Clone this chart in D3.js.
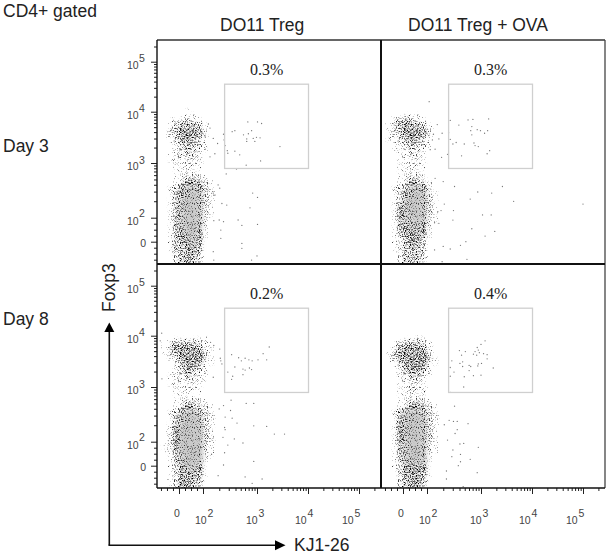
<!DOCTYPE html>
<html><head><meta charset="utf-8">
<script src="https://cdn.jsdelivr.net/npm/d3@7"></script>
<style>html,body{margin:0;background:#fff}svg{display:block}text{font-family:"Liberation Sans",Arial,sans-serif}</style>
</head><body><svg id="c" width="609" height="554"></svg>
<script>
// Axis values are display units: 2 = 10^2, 3 = 10^3 ... and linear between 0 and 2.
const columnTitles = ["DO11 Treg", "DO11 Treg + OVA"];
const rowTitles = ["Day 3", "Day 8"];
const gatePercents = ["0.3%", "0.3%", "0.2%", "0.4%"];
const axisDomain = [-1.83, 0, 2, 3, 4, 5, 5.43];
const foxDomain = [-1.86, 0, 2, 3, 4, 5, 5.43];
const gateX = [2.4, 4.01];
const gateY = [2.9, 4.55];
const majorTicks = [0, 2, 3, 4, 5];
const decadeTicks = [2, 3, 4, 5];

// Dense populations: darkness by eye per bin, 0 empty .. 5 darkest speckle, 6-7 saturated grey core.
const densityXEdges = [-1.5,-1,-.5,0,.5,1,1.5,2,2.11,2.22,2.33];
const densityYEdges = [4.2,4.1,4,3.9,3.8,3.7,3.6,3.5,3.4,3.3,3.2,3.1,3,2.9,2.8,2.7,2.6,2.5,2.4,2.3,2.2,2.1,2,1.5,1,.5,0,-.5,-1,-1.5,-1.9];
const densityDay3Treg = ["0000000000","0000100000","0000110000","0112321000","0134443100","0245554100","0245554200","0135543100","0023443100","0023432100","0123331000","0122322000","0012221000","0012221000","0012332100","0013554210","0135665320","0145676320","0146776320","0146776320","0146776210","0146776210","0146776200","0146776100","0145775100","0145665100","0144564000","0144554000","0034543000","0034543000"];
const densityDay3Ova = ["0000000000","0000000000","0001110000","0234321000","1345443100","1245554200","1245554200","1134543100","0123433100","0112331000","0012321000","0012221000","0012221000","0012221000","0012331000","0013543100","0134665200","0135676210","0136776310","0146776310","0156776310","0156676210","0146676210","0145665100","0145565100","0124553100","0124543000","0124443000","0024443000","0024442000"];
const densityDay8Treg = ["0000000000","0000000000","0011111100","1244443200","1355554210","1245555310","0135555210","0024554210","0023543100","0123432100","0122322100","0122221000","0012221000","0012111000","0012332100","0013543210","0135664320","0146776320","0146776320","0257777320","0257777320","0257777320","1257777310","1247777210","0146777210","0146776100","0135665100","0135554100","0135544000","0135543000"];
const densityDay8Ova = ["0000000000","0000000000","0001121000","0134443100","0245554200","1355555200","1255555310","0135555210","0024554100","0023443100","0012331000","0012321000","0012322000","0012222000","0012332100","0013554210","0146664320","0146776320","0156776320","0156776320","0156776310","0156776310","0146776210","0146776210","0146776100","0136666100","0135555100","0035554100","0034554000","0034553000"];

// Outlying events read individually: [KJ1-26, Foxp3].
const eventsDay3Treg = [[2.1,3.76],[2.13,3.68],[2.04,3.51],[2.19,3.48],[2.27,3.38],[2.38,3.56],[2.39,3.45],[2.41,3.34],[2.46,3.19],[2.45,3.24],[2.22,3.18],[2.13,3.12],[2.59,3.63],[2.54,3.61],[2.83,3.8],[3.01,3.8],[3.09,3.77],[2.9,3.63],[2.84,3.57],[2.75,3.55],[2.81,3.47],[2.93,3.48],[2.99,3.5],[3.06,3.49],[2.81,3.42],[2.96,3.42],[2.59,3.23],[2.68,3.16],[2.8,2.96],[3.07,3.04],[3.45,3.32],[2.43,2.8],[2.62,2.89],[2.92,2.45],[3.01,2.37],[2.87,2.18],[2.65,1.81],[2.72,1.36],[3.01,1.44],[2.72,-.14],[2.72,-.55],[2.9,-1.53],[3,-1.19],[2.35,2.26],[2.44,2.23],[2.2,1.75],[2.3,1.81],[2.38,1.67],[2.33,.97],[2.33,.28],[2.19,-.83],[2.2,-1.53],[2.28,2.6],[2.31,2.54],[2.22,2.41],[2.19,2.45]];
const eventsDay3Ova = [[2.04,4.2],[2.19,3.75],[2.12,3.56],[2.28,3.58],[2.22,3.47],[2.1,3.45],[2.4,3.59],[2.43,3.83],[2.43,3.46],[2.27,3.11],[2.38,3.17],[2.06,3.26],[2.15,3.27],[2.59,3.74],[2.76,3.84],[2.85,3.85],[3.15,3.86],[2.83,3.71],[2.81,3.63],[2.93,3.65],[2.99,3.63],[3.07,3.58],[3.13,3.63],[2.83,3.55],[2.54,3.4],[2.48,3.37],[2.69,3.37],[2.87,3.39],[2.89,3.34],[2.95,3.32],[3.17,3.24],[3.12,3.18],[2.64,3.14],[2.15,2.72],[2.3,2.66],[2.51,2.57],[2.94,2.47],[3.21,2.45],[3.42,2.57],[2.8,2.34],[3.64,2.3],[5,2.25],[2.32,2.25],[2.26,2.13],[2.2,2.11],[2.49,2.13],[2.48,1.8],[3.03,2.05],[3.2,2.05],[2.22,1.53],[2.14,1.58],[2.83,1.08],[3.27,.86],[3.08,.47],[2.72,0],[2.62,-.3],[2.3,-.39],[2.43,-.61],[2.14,-.69],[2.74,-1.47],[2.28,-1.67]];
const eventsDay8Treg = [[2.53,3.63],[2.66,3.57],[2.78,3.56],[2.71,3.51],[2.85,3.53],[2.91,3.51],[3.02,3.53],[3.12,3.65],[3.19,3.53],[3.24,3.78],[2.59,3.39],[2.46,3.29],[2.55,3.21],[2.53,3.15],[2.74,3.35],[2.78,3.33],[2.86,3.37],[2.9,3.34],[2.74,3.24],[2.32,3.56],[2.35,3.45],[2.33,3.51],[2.19,3.19],[2.31,3.74],[2.2,3.81],[2.14,3.87],[-1.44,4.05],[-1.56,3.9],[-1.42,3.16],[2.52,2.76],[2.8,2.7],[2.94,2.7],[2.38,2.66],[2.3,2.6],[2.51,2.57],[2.41,2.45],[2.54,2.43],[2.63,2.34],[2.94,2.29],[3.19,2.28],[3.34,2.14],[3.54,2.14],[2.4,2.26],[2.41,2.22],[2.37,2.08],[2.58,2.05],[2.74,1.89],[2.46,1.72],[2.4,1.08],[2.94,.36],[2.38,.06],[2.78,-.94],[3.1,-1.11],[2.91,-1.47],[2.28,-.83]];
const eventsDay8Ova = [[3.08,3.9],[3,3.83],[2.93,3.77],[2.95,3.72],[2.89,3.69],[2.86,3.64],[2.92,3.62],[2.97,3.67],[3.05,3.65],[3.12,3.63],[3.12,3.55],[3.01,3.46],[2.95,3.45],[2.94,3.41],[2.78,3.42],[2.81,3.4],[2.66,3.49],[2.71,3.69],[2.6,3.71],[2.64,3.62],[2.61,3.46],[2.46,3.51],[2.43,3.38],[2.5,3.29],[2.69,3.2],[2.86,3.22],[3,3.23],[3.24,3.37],[2.68,3],[2.78,3.32],[2.66,3.4],[2.43,3.21],[2.43,2.9],[2.51,2.65],[2.41,2.39],[2.49,2.37],[2.56,2.37],[2.76,2.33],[2.32,2.31],[2.56,2.22],[2.52,2.15],[2.38,2.03],[2.48,1.31],[2.61,1.81],[2.68,1.86],[2.95,1.53],[2.62,.94],[2.8,.53],[2.46,.75],[2.62,.33],[2.58,0],[2.36,-.44],[2.93,-.58],[2.36,-1.11],[2.67,-1.75]];

const densities = [densityDay3Treg, densityDay3Ova, densityDay8Treg, densityDay8Ova];
const events = [eventsDay3Treg, eventsDay3Ova, eventsDay8Treg, eventsDay8Ova];

const P = 224, X0 = 157, Y0 = 40;
const speckle = [0,.15,.27,.38,.48,.58,.42,.3];
const wash = [0,0,0,0,.06,.16,.42,.62];
const svg = d3.select("#c");
const x = d3.scaleLinear().domain(axisDomain).range([0,22,46,100,151,202,224]);
const y = d3.scaleLinear().domain(foxDomain).range([224,201.7,177.7,123,71.7,21.7,0]);

// Logarithmic sub-ticks inside each decade, plus linear ones near zero.
const logSteps = [2,3,4,5,6,7,8,9].map(k => Math.log10(k));
const minorTicks = lim => [-1.5,-1,-.5,.5,1,1.5]
  .concat(d3.range(2,6).flatMap(d => logSteps.map(s => d + s))).filter(v => v < lim);

const defs = svg.append("defs");
// The stipple is a fixed visual texture for the grid above; it carries no data.
const f = defs.append("filter").attr("id","stipple").attr("filterUnits","userSpaceOnUse")
  .attr("x",0).attr("y",0).attr("width",609).attr("height",554)
  .attr("color-interpolation-filters","sRGB");
f.append("feGaussianBlur").attr("in","SourceAlpha").attr("stdDeviation",1.7).attr("result","a");
f.append("feComponentTransfer").attr("in","a").attr("result","mask").append("feFuncA").attr("type","linear").attr("slope",14).attr("intercept",-.7);
f.append("feTurbulence").attr("type","fractalNoise").attr("baseFrequency",.85).attr("numOctaves",2).attr("seed",7).attr("result","t");
f.append("feColorMatrix").attr("in","t").attr("type","matrix").attr("values","0 0 0 0 0 0 0 0 0 0 0 0 0 0 0 1 0 0 0 0").attr("result","n");
f.append("feComposite").attr("in","a").attr("in2","n").attr("operator","arithmetic")
  .attr("k1",0).attr("k2",.5).attr("k3",1).attr("k4",-.69).attr("result","c");
f.append("feComponentTransfer").attr("in","c").attr("result","s").append("feFuncA").attr("type","linear").attr("slope",3.2);
f.append("feComposite").attr("in","s").attr("in2","mask").attr("operator","in").attr("result","m");
f.append("feGaussianBlur").attr("in","m").attr("stdDeviation",.3);
defs.append("filter").attr("id","soft").append("feGaussianBlur").attr("stdDeviation",2.2);
defs.append("clipPath").attr("id","panelClip").append("rect").attr("width",P).attr("height",P);

densities.forEach((grid, i) => {
  const g = svg.append("g").attr("transform",`translate(${X0 + (i%2)*P},${Y0 + (i>>1)*P})`);
  const cells = grid.flatMap((row, r) => Array.from(row, (c, k) => ({r, k, d:+c})));
  const used = cells.filter(c => c.d > 0);
  const draw = (layer, fill, table) => layer.selectAll("rect").data(used).join("rect")
    .attr("x", c => x(densityXEdges[c.k])).attr("width", c => x(densityXEdges[c.k+1]) - x(densityXEdges[c.k]))
    .attr("y", c => y(densityYEdges[c.r])).attr("height", c => y(densityYEdges[c.r+1]) - y(densityYEdges[c.r]))
    .attr("fill", fill).attr("fill-opacity", c => table[c.d]);
  const clip = g.append("g").attr("clip-path","url(#panelClip)");
  draw(clip.append("g").attr("filter","url(#soft)"), "#a8a8a8", wash);
  draw(clip.append("g").attr("filter","url(#stipple)"), "#000", speckle);
  clip.append("g").selectAll("circle").data(events[i]).join("circle")
    .attr("cx", d => x(d[0])).attr("cy", d => y(d[1])).attr("r",.65).attr("fill","#777");
  g.append("rect").attr("x",x(gateX[0])).attr("width",x(gateX[1])-x(gateX[0]))
    .attr("y",y(gateY[1])).attr("height",y(gateY[0])-y(gateY[1]))
    .attr("fill","none").attr("stroke","#cfcfcf").attr("stroke-width",1.3);
  g.append("text").attr("x",x(gateX[0])+42).attr("y",y(gateY[1])-9.5).attr("text-anchor","middle")
    .attr("font-size",16).attr("fill","#222").style("font-family","'Liberation Serif',serif").text(gatePercents[i]);
});

// Axes
const styleAxis = a => { a.select(".domain").remove(); a.selectAll("line").attr("stroke","#222").attr("stroke-width",1); a.selectAll("text").remove(); };
[0,1].forEach(row => {
  const g = svg.append("g").attr("transform",`translate(${X0},${Y0 + row*P})`);
  g.append("g").call(d3.axisLeft(y).tickValues(majorTicks).tickSize(6).tickFormat("")).call(styleAxis);
  g.append("g").call(d3.axisLeft(y).tickValues(minorTicks(5.4)).tickSize(3).tickFormat("")).call(styleAxis);
  const lab = g.append("g").attr("fill","#444").attr("font-size",10.5);
  lab.append("text").attr("x",-11).attr("y",y(0)+5.5).attr("text-anchor","end").text("0");
  decadeTicks.forEach(d => {
    lab.append("text").attr("x",-30).attr("y",y(d)+7.3).text("10");
    lab.append("text").attr("x",-18).attr("y",y(d)+(d==2?-.7:.5)).text(d);
  });
});
const xLabelOffsets = {2:-8, 3:-11, 4:-13, 5:-17};
[0,1].forEach(col => {
  const g = svg.append("g").attr("transform",`translate(${X0 + col*P},${Y0 + 2*P})`);
  g.append("g").call(d3.axisBottom(x).tickValues(majorTicks).tickSize(6).tickFormat("")).call(styleAxis);
  g.append("g").call(d3.axisBottom(x).tickValues(minorTicks(5.4)).tickSize(3).tickFormat("")).call(styleAxis);
  const lab = g.append("g").attr("fill","#444").attr("font-size",10.5);
  lab.append("text").attr("x",x(0)-5).attr("y",28.5).text("0");
  decadeTicks.forEach(d => {
    lab.append("text").attr("x",x(d)+xLabelOffsets[d]).attr("y",36).text("10");
    lab.append("text").attr("x",x(d)+xLabelOffsets[d]+12.5).attr("y",29).text(d);
  });
});

// Frame
const line = (a,b,c,d,w,col) => svg.append("line").attr("x1",a).attr("y1",b).attr("x2",c).attr("y2",d).attr("stroke",col).attr("stroke-width",w);
line(X0,Y0,X0+2*P,Y0,1.3,"#333");
line(X0+2*P,Y0,X0+2*P,Y0+2*P,1.3,"#444");
line(X0,Y0,X0,Y0+2*P,1.4,"#111");
line(X0,Y0+2*P,X0+2*P,Y0+2*P,1.4,"#111");
line(X0+P,Y0,X0+P,Y0+2*P,2,"#111");
line(X0,Y0+P,X0+2*P,Y0+P,2,"#111");

// Titles
const title = (s,xp,yp,anchor) => svg.append("text").attr("x",xp).attr("y",yp).attr("text-anchor",anchor||"start").attr("font-size",17.5).attr("fill","#222").text(s);
title("CD4+ gated",3,17);
title(columnTitles[0],220,30.5);
title(columnTitles[1],408,30.5);
title(rowTitles[0],3,152);
title(rowTitles[1],3,325);
svg.append("text").attr("transform","translate(115,312) rotate(-90)").attr("font-size",17.5).attr("fill","#222").text("Foxp3");
title("KJ1-26",294,551);

// Arrows
line(109.3,545.3,109.3,330,1.6,"#111");
line(108.5,545.3,277,545.3,1.6,"#111");
svg.append("path").attr("d","M104.3,332L109.3,322.5L114.3,332Z").attr("fill","#000");
svg.append("path").attr("d","M275,340.3L285.5,345.3L275,350.3Z").attr("transform","translate(0,200)").attr("fill","#000");
</script></body></html>
